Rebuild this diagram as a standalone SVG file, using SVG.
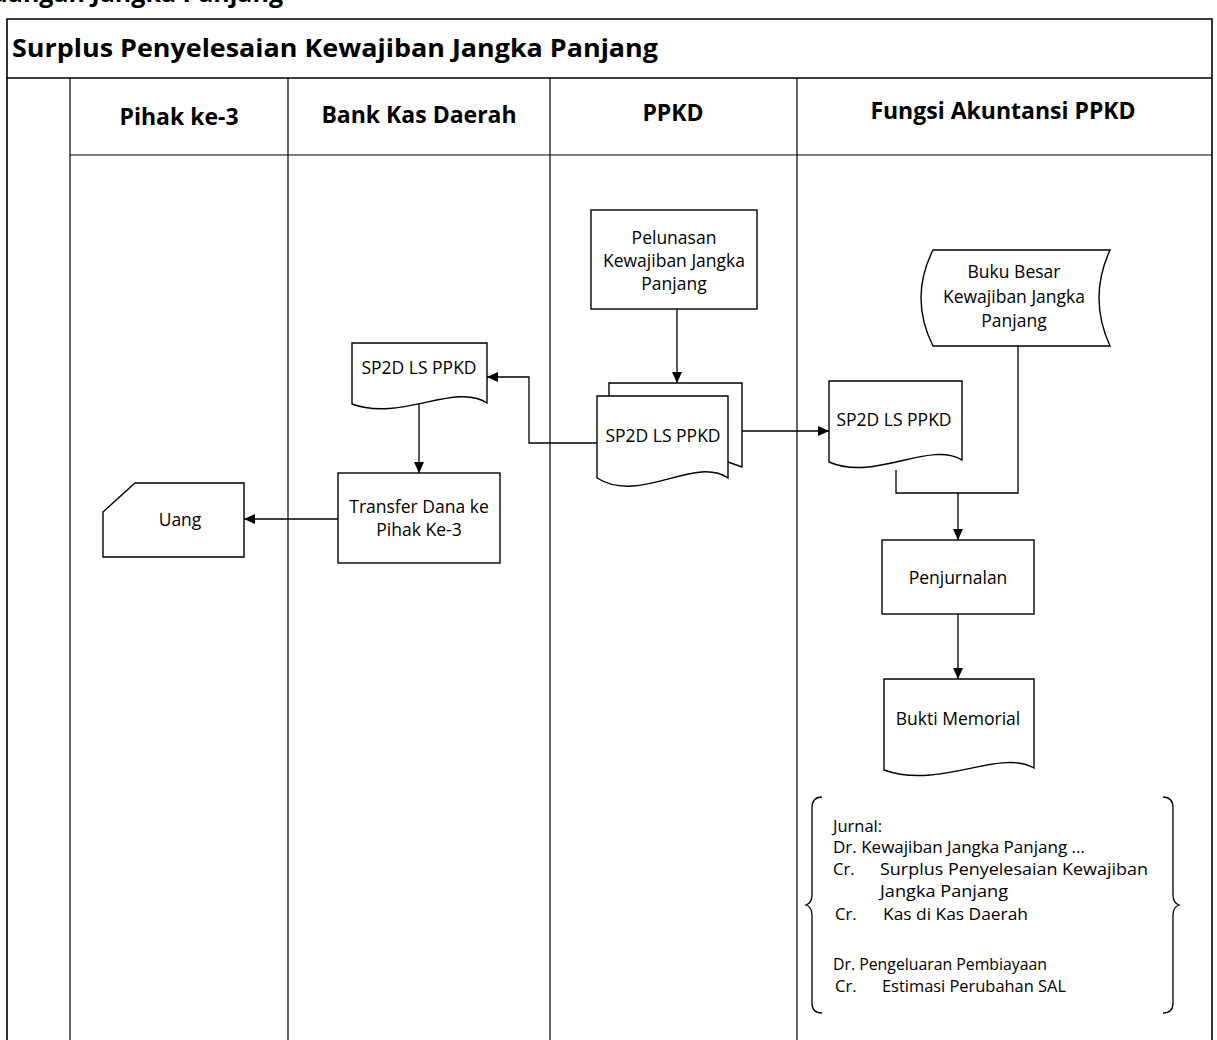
<svg xmlns="http://www.w3.org/2000/svg" width="1217" height="1040" viewBox="0 0 1217 1040">
<defs>
<style>
.frame{fill:none;stroke:#000;stroke-width:1.6}
.lane{fill:none;stroke:#000;stroke-width:1.2}
.shape{fill:#fff;stroke:#000;stroke-width:1.4}
.conn{fill:none;stroke:#000;stroke-width:1.3}
.t{font-family:"Open Sans","Liberation Sans",sans-serif;font-size:17.5px;fill:#000;text-anchor:middle}
.j{font-family:"Open Sans","Liberation Sans",sans-serif;font-size:16.5px;fill:#000}
.h{font-family:"Open Sans","Liberation Sans",sans-serif;font-weight:bold;font-size:23px;fill:#000;text-anchor:middle}
.title{font-family:"Open Sans","Liberation Sans",sans-serif;font-weight:bold;font-size:25px;fill:#000}
</style>
<marker id="arr" markerUnits="userSpaceOnUse" markerWidth="12" markerHeight="10" refX="11" refY="5" orient="auto">
<path d="M0,0 L11,5 L0,10 Z" fill="#000"/>
</marker>
</defs>
<rect width="1217" height="1040" fill="#fff"/>
<text class="title" x="-40" y="2" font-size="28">Keuangan Jangka Panjang</text>
<g id="pool">
<path class="frame" d="M7,1040 V19 H1212 V1040"/>
<path class="frame" d="M7,78 H1212"/>
<path class="lane" d="M70,155 H1212"/>
<path class="lane" d="M70,78 V1040 M288,78 V1040 M550,78 V1040 M797,78 V1040"/>
<text class="title" x="12" y="57" textLength="646" lengthAdjust="spacingAndGlyphs">Surplus Penyelesaian Kewajiban Jangka Panjang</text>
<text class="h" x="179" y="125">Pihak ke-3</text>
<text class="h" x="419" y="123">Bank Kas Daerah</text>
<text class="h" x="673" y="121">PPKD</text>
<text class="h" x="1003" y="119">Fungsi Akuntansi PPKD</text>
</g>
<g id="connectors">
<path class="conn" d="M677,309 V383" marker-end="url(#arr)"/>
<path class="conn" d="M597,443 H529 V377 H487" marker-end="url(#arr)"/>
<path class="conn" d="M419,401 V473" marker-end="url(#arr)"/>
<path class="conn" d="M338,519 H244" marker-end="url(#arr)"/>
<path class="conn" d="M742,431 H829" marker-end="url(#arr)"/>
<path class="conn" d="M896,470 V493 H1018 V346"/>
<path class="conn" d="M958,493 V540" marker-end="url(#arr)"/>
<path class="conn" d="M958,614 V679" marker-end="url(#arr)"/>
</g>
<g id="node-pelunasan">
<rect class="shape" x="591" y="210" width="166" height="99"/>
<text class="t" x="674" y="244">Pelunasan</text>
<text class="t" x="674" y="267">Kewajiban Jangka</text>
<text class="t" x="674" y="290">Panjang</text>
</g>
<g id="node-sp2d-ppkd">
<path class="shape" d="M609,396 V383 H742 V467 L728,462"/>
<path class="shape" d="M597,396 H728 V478 C695,455 640,505 597,478 Z"/>
<text class="t" x="663" y="442">SP2D LS PPKD</text>
</g>
<g id="node-sp2d-bank">
<path class="shape" d="M352,343 H487 V403 C455,382 400,422 352,404 Z"/>
<text class="t" x="419" y="374">SP2D LS PPKD</text>
</g>
<g id="node-transfer">
<rect class="shape" x="338" y="473" width="162" height="90"/>
<text class="t" x="419" y="513">Transfer Dana ke</text>
<text class="t" x="419" y="536">Pihak Ke-3</text>
</g>
<g id="node-uang">
<path class="shape" d="M135,483 H244 V557 H103 V512 Z"/>
<text class="t" x="180" y="526">Uang</text>
</g>
<g id="node-sp2d-akuntansi">
<path class="shape" d="M829,381 H962 V460 C930,440 875,482 829,462 Z"/>
<text class="t" x="894" y="426">SP2D LS PPKD</text>
</g>
<g id="node-buku-besar">
<path class="shape" d="M933,250 H1110 Q1088,298 1110,346 H933 Q909,298 933,250 Z"/>
<text class="t" x="1014" y="278">Buku Besar</text>
<text class="t" x="1014" y="303">Kewajiban Jangka</text>
<text class="t" x="1014" y="327">Panjang</text>
</g>
<g id="node-penjurnalan">
<rect class="shape" x="882" y="540" width="152" height="74"/>
<text class="t" x="958" y="584">Penjurnalan</text>
</g>
<g id="node-bukti-memorial">
<path class="shape" d="M884,679 H1034 V768 C1000,748 940,790 884,770 Z"/>
<text class="t" x="958" y="725">Bukti Memorial</text>
</g>
<g id="node-jurnal">
<path class="conn" d="M822,797 Q812,797 812,808 V895 Q812,903 806,905 Q812,907 812,915 V1003 Q812,1013 822,1013"/>
<path class="conn" d="M1163,797 Q1173,797 1173,808 V895 Q1173,903 1179,905 Q1173,907 1173,915 V1003 Q1173,1013 1163,1013"/>
<text class="j" x="833" y="832">Jurnal:</text>
<text class="j" x="833" y="853" textLength="252" lengthAdjust="spacingAndGlyphs">Dr. Kewajiban Jangka Panjang ...</text>
<text class="j" x="833" y="875">Cr.</text>
<text class="j" x="880" y="875" textLength="268" lengthAdjust="spacingAndGlyphs">Surplus Penyelesaian Kewajiban</text>
<text class="j" x="880" y="897" textLength="128" lengthAdjust="spacingAndGlyphs">Jangka Panjang</text>
<text class="j" x="835" y="920">Cr.</text>
<text class="j" x="883" y="920" textLength="145" lengthAdjust="spacingAndGlyphs">Kas di Kas Daerah</text>
<text class="j" x="833" y="970" textLength="214" lengthAdjust="spacingAndGlyphs">Dr. Pengeluaran Pembiayaan</text>
<text class="j" x="835" y="992">Cr.</text>
<text class="j" x="882" y="992" textLength="184" lengthAdjust="spacingAndGlyphs">Estimasi Perubahan SAL</text>
</g>
</svg>
